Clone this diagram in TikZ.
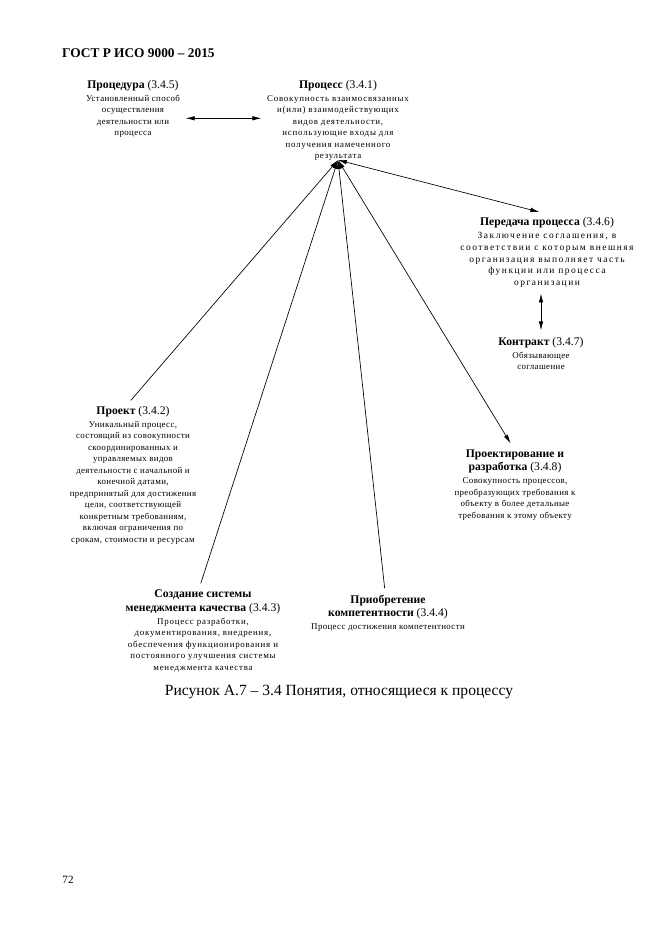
\documentclass[tikz,border=0pt]{standalone}
\usepackage{fontspec}
\setmainfont{Liberation Serif}
\newfontfamily\bodyfam[LetterSpace=4]{Liberation Serif}
\newfontfamily\bodyfamm[LetterSpace=8.5]{Liberation Serif}
\newfontfamily\bodyfamw[LetterSpace=16]{Liberation Serif}
\usetikzlibrary{arrows.meta,calc}
\newcommand\bd{\bodyfam\fontsize{8}{10.35}\selectfont}
\newcommand\bdm{\bodyfamm\fontsize{8}{10.35}\selectfont}
\newcommand\bdw{\bodyfamw\fontsize{8.5}{10.6}\selectfont}
\newcommand\tf{\rmfamily\fontsize{10.5}{11.7}\selectfont}
\tikzset{
  concept/.style={anchor=north,align=center,inner sep=0pt,font=\bd},
  link/.style={line width=0.6pt,-{Latex[length=8pt,width=4pt]}},
  dlink/.style={line width=0.6pt,{Latex[length=8pt,width=4pt]}-{Latex[length=8pt,width=4pt]}}
}
\begin{document}
\begin{tikzpicture}[x=0.9pt,y=-0.9pt]
\useasboundingbox (0,0) rectangle (661,935);
\fill[white] (0,0) rectangle (661,935);
\node[anchor=west,inner sep=0pt,font=\fontsize{12}{14}\selectfont\bfseries] (head) at (62,53) {ГОСТ Р ИСО 9000 – 2015};
\node[concept] (procedura) at (133,80) {{\tf\textbf{Процедура} (3.4.5)}\\[1.4pt]
Установленный способ\\ осуществления\\ деятельности или\\ процесса};
\node[concept,font=\bdm] (process) at (338,80) {{\tf\textbf{Процесс} (3.4.1)}\\[1.4pt]
Совокупность взаимосвязанных\\ и(или) взаимодействующих\\ видов деятельности,\\ использующие входы для\\ получения намеченного\\ результата};
\node[concept,font=\bdw] (peredacha) at (547,217) {{\tf\textbf{Передача процесса} (3.4.6)}\\[1.4pt]
Заключение соглашения, в\\ соответствии с которым внешняя\\ организация выполняет часть\\ функции или процесса\\ организации};
\node[concept] (kontrakt) at (541,337) {{\tf\textbf{Контракт} (3.4.7)}\\[1.4pt]
Обязывающее\\ соглашение};
\node[concept] (proekt) at (133,406) {{\tf\textbf{Проект} (3.4.2)}\\[1.4pt]
Уникальный процесс,\\ состоящий из совокупности\\ скоординированных и\\ управляемых видов\\ деятельности с начальной и\\ конечной датами,\\ предпринятый для достижения\\ цели, соответствующей\\ конкретным требованиям,\\ включая ограничения по\\ срокам, стоимости и ресурсам};
\node[concept] (proektir) at (515,450) {{\tf\textbf{Проектирование и}}\\[1.4pt]{\tf\textbf{разработка} (3.4.8)}\\[1.4pt]
Совокупность процессов,\\ преобразующих требования к\\ объекту в более детальные\\ требования к этому объекту};
\node[concept,font=\bdm] (sozd) at (203,590) {{\tf\textbf{Создание системы}}\\[1.4pt]{\tf\textbf{менеджмента качества} (3.4.3)}\\[1.4pt]
Процесс разработки,\\ документирования, внедрения,\\ обеспечения функционирования и\\ постоянного улучшения системы\\ менеджмента качества};
\node[concept] (priobr) at (388,595) {{\tf\textbf{Приобретение}}\\[1.4pt]{\tf\textbf{компетентности} (3.4.4)}\\[1.4pt]
Процесс достижения компетентности};
\node[inner sep=0pt,font=\fontsize{14}{16}\selectfont] (caption) at (339,692) {Рисунок А.7 – 3.4 Понятия, относящиеся к процессу};
\node[inner sep=0pt,font=\fontsize{10}{12}\selectfont] (page) at (68,880) {72};
\coordinate (hub) at ($(process.south)+(0,-1)$);
\draw[dlink] ([xshift=5,yshift=2]procedura.east |- process.west) -- ([xshift=-5,yshift=2]process.west);
\draw[dlink] (hub) -- ([xshift=-7,yshift=4.5]peredacha.north);
\draw[dlink] ([yshift=-5]kontrakt.north |- peredacha.south) -- ([yshift=6]kontrakt.north);
\draw[dlink] (hub) -- ([xshift=-4,yshift=6]proektir.north);
\draw[link] ([xshift=-2,yshift=5]proekt.north) -- (hub);
\draw[link] ([xshift=-2,yshift=6]sozd.north) -- (hub);
\draw[link] ([xshift=-3,yshift=6]priobr.north) -- (hub);
\end{tikzpicture}
\end{document}
